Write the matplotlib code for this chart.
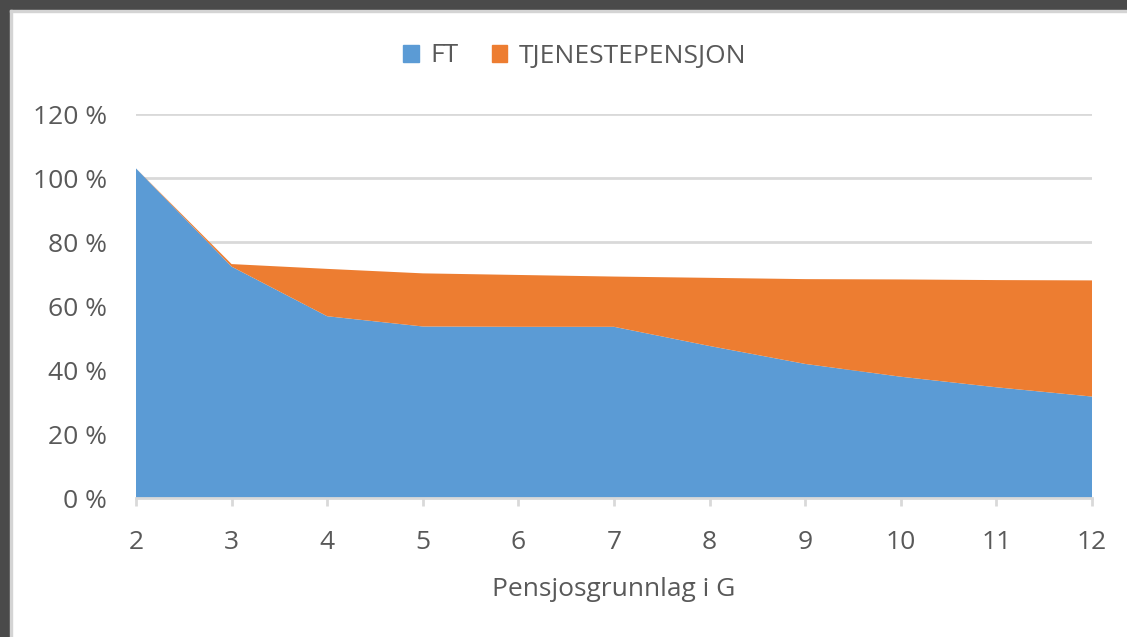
import numpy as np
import matplotlib.pyplot as plt
from matplotlib.patches import Rectangle, Patch
from matplotlib.ticker import FuncFormatter

# data (percent)
g_levels = [2, 3, 4, 5, 6, 7, 8, 9, 10, 11, 12]
ft = [103.0, 72.3, 56.8, 53.6, 53.5, 53.5, 47.5, 41.9, 37.9, 34.6, 31.7]
tjeneste = [0.0, 0.8, 14.8, 16.6, 16.2, 15.7, 21.3, 26.5, 30.4, 33.5, 36.3]
y_ticks = [0, 20, 40, 60, 80, 100, 120]

blue = '#5B9BD5'
orange = '#ED7D31'
txt = '#595959'
grid = '#D9D9D9'

plt.rcParams['font.family'] = ['Open Sans', 'DejaVu Sans']
fs = 19

W, H = 1127, 637
fig = plt.figure(figsize=(W / 100, H / 100), dpi=100)
ax = fig.add_axes([136 / W, 1 - 498 / H, 956 / W, 384 / H])

ax.stackplot(g_levels, ft, tjeneste, colors=[blue, orange], linewidth=0)

ax.set_xlim(2, 12)
ax.set_ylim(0, 120)
ax.set_xticks(g_levels)
ax.set_yticks(y_ticks)
ax.yaxis.set_major_formatter(FuncFormatter(lambda v, p: f'{int(v)} %'))

ax.grid(axis='y', color=grid, linewidth=2)
ax.set_axisbelow(True)
for s in ['top', 'right', 'left']:
    ax.spines[s].set_visible(False)
ax.spines['bottom'].set_color(grid)
ax.spines['bottom'].set_linewidth(2)
ax.tick_params(axis='y', length=0, pad=21, labelsize=fs, labelcolor=txt)
ax.tick_params(axis='x', length=6, width=2, color=grid, pad=17, labelsize=fs, labelcolor=txt)

ax.set_xlabel('Pensjosgrunnlag i G', fontsize=fs, color=txt, labelpad=16)

handles = [Patch(color=blue, label='FT'), Patch(color=orange, label='TJENESTEPENSJON')]
fig.legend(handles=handles, loc='center', bbox_to_anchor=(0.51, 1 - 56 / H), ncol=2,
           frameon=False, fontsize=fs, labelcolor=txt, handlelength=0.6, handleheight=0.6,
           handletextpad=0.45, columnspacing=1.25)

# dark screenshot frame on top and left
fig.patches.append(Rectangle((0, 1 - 10 / H), 1, 10 / H, transform=fig.transFigure,
                             color='#4A4A4A', zorder=10))
fig.patches.append(Rectangle((0, 0), 10 / W, 1, transform=fig.transFigure,
                             color='#4A4A4A', zorder=10))
fig.patches.append(Rectangle((10 / W, 1 - 12 / H), 1, 2 / H, transform=fig.transFigure,
                             color='#D4D4D4', zorder=10))
fig.patches.append(Rectangle((10 / W, 0), 2 / W, 1 - 10 / H, transform=fig.transFigure,
                             color='#D4D4D4', zorder=10))

fig.savefig('out.png', dpi=100)
